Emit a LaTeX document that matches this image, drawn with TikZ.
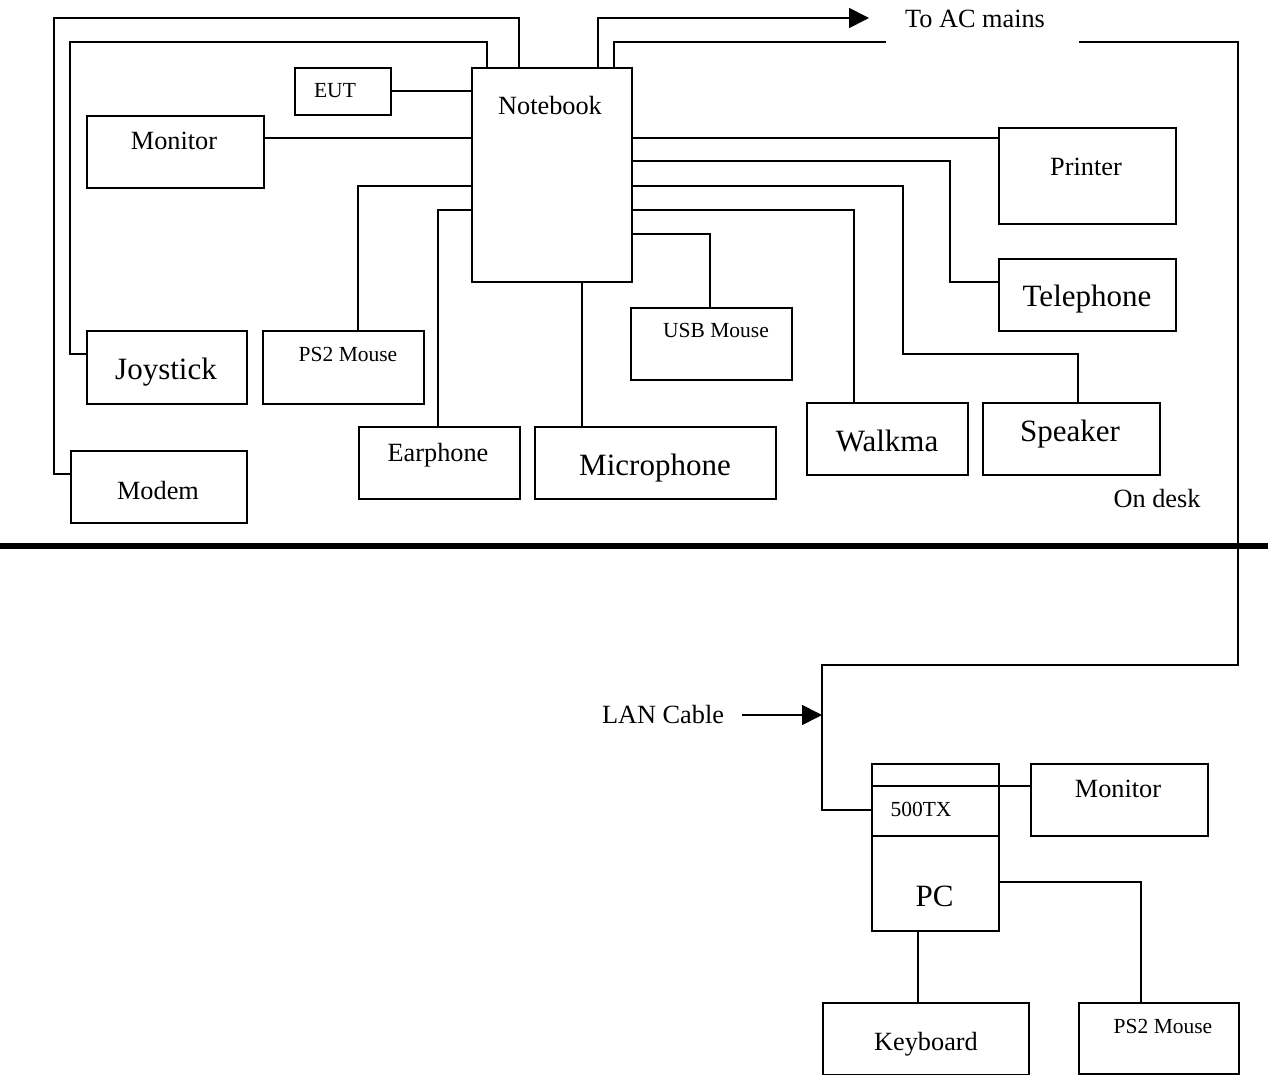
\documentclass[tikz,border=0pt]{standalone}
\usepackage{fontspec}
\setmainfont{Liberation Serif}
\usetikzlibrary{calc,arrows.meta}
\begin{document}
\begin{tikzpicture}[x=1pt,y=-1pt,
  box/.style={draw, line width=1.7pt, inner sep=0pt, anchor=north west},
  wire/.style={line width=1.7pt},
  tip/.style={line width=1.7pt, -{Triangle[length=20pt,width=20pt]}},
  tn/.style={font=\fontsize{26.3}{30}\selectfont, inner sep=0pt, anchor=base},
  tl/.style={font=\fontsize{31}{35}\selectfont, inner sep=0pt, anchor=base},
  ts/.style={font=\fontsize{21.5}{25}\selectfont, inner sep=0pt, anchor=base}]
\useasboundingbox (0,0) rectangle (1268,1075);

% ---- boxes (upper part, on desk)
\node[box, minimum width=160pt, minimum height=214pt] (nb) at (471,67) {};
\node[box, minimum width=96pt, minimum height=47pt] (eut) at (294,67) {};
\node[box, minimum width=177pt, minimum height=72pt] (mon) at (86,115) {};
\node[box, minimum width=177pt, minimum height=96pt] (prn) at (998,127) {};
\node[box, minimum width=177pt, minimum height=72pt] (tel) at (998,258) {};
\node[box, minimum width=161pt, minimum height=72pt] (usb) at (630,307) {};
\node[box, minimum width=160pt, minimum height=73pt] (joy) at (86,330) {};
\node[box, minimum width=161pt, minimum height=73pt] (ps2) at (262,330) {};
\node[box, minimum width=161pt, minimum height=72pt] (ear) at (358,426) {};
\node[box, minimum width=241pt, minimum height=72pt] (mic) at (534,426) {};
\node[box, minimum width=161pt, minimum height=72pt] (wlk) at (806,402) {};
\node[box, minimum width=177pt, minimum height=72pt] (spk) at (982,402) {};
\node[box, minimum width=176pt, minimum height=72pt] (mdm) at (70,450) {};

% ---- boxes (lower part)
\node[box, minimum width=127pt, minimum height=72pt] (tx) at (871,763) {};
\node[box, minimum width=177pt, minimum height=72pt] (mon2) at (1030,763) {};
\node[box, minimum width=127pt, minimum height=95pt] (pc) at (871,835) {};
\node[box, minimum width=206pt, minimum height=72pt] (kb) at (822,1002) {};
\node[box, minimum width=160pt, minimum height=71pt] (ps2b) at (1078,1002) {};

% ---- ports on the notebook
\coordinate (w1) at ($(nb.north west)+(0,71)$);
\coordinate (w2) at ($(nb.north west)+(0,119)$);
\coordinate (w3) at ($(nb.north west)+(0,143)$);
\coordinate (e1) at ($(nb.north east)+(0,71)$);
\coordinate (e2) at ($(nb.north east)+(0,94)$);
\coordinate (e3) at ($(nb.north east)+(0,119)$);
\coordinate (e4) at ($(nb.north east)+(0,143)$);
\coordinate (e5) at ($(nb.north east)+(0,167)$);
\coordinate (t1) at ($(nb.north west)+(16,0)$);
\coordinate (t2) at ($(nb.north west)+(48,0)$);
\coordinate (t3) at ($(nb.north west)+(127,0)$);
\coordinate (t4) at ($(nb.north west)+(143,0)$);
\coordinate (b1) at ($(nb.south west)+(111,0)$);
\coordinate (acend) at (869,18);
\coordinate (lanR) at (1238,665);
\coordinate (lanL) at (822,665);
\coordinate (lanA) at (742,715);

% ---- connectors
\draw[wire] (eut.east) -- (eut.east -| nb.west);
\draw[wire] (w1) -- (w1 -| mon.east);
\draw[wire] (w2) -| ($(ps2.north west)+(96,0)$);
\draw[wire] (w3) -| ($(ear.north west)+(80,0)$);
\draw[wire] (b1) -- (b1 |- mic.north);
\draw[wire] (e1) -- (e1 -| prn.west);
\draw[wire] (e2) -| ($(tel.north west)+(-48,24)$) -- ($(tel.north west)+(0,24)$);
\draw[wire] (e3) -| ($(spk.north west)+(-79,-48)$) -| ($(spk.north west)+(96,0)$);
\draw[wire] (e4) -| ($(wlk.north west)+(48,0)$);
\draw[wire] (e5) -| ($(usb.north west)+(80,0)$);
\draw[wire] (t2) -- ++(0,-49) -- ++(-465,0) |- ($(mdm.north west)+(0,24)$);
\draw[wire] (t1) -- ++(0,-25) -- ++(-417,0) |- ($(joy.north west)+(0,24)$);
\draw[tip] (t3) |- (acend);
\draw[wire] (t4) -- ++(0,-25) -| (lanR) -- (lanL) |- ($(tx.north west)+(0,47)$);
\draw[tip] (lanA) -- (lanA -| lanL);

\coordinate (dv) at ($(tx.north west)+(0,23)$);
\draw[wire] (dv) -- (dv -| mon2.west);
\draw[wire] ($(pc.north east)+(0,47)$) -| ($(ps2b.north west)+(63,0)$);
\coordinate (k1) at ($(pc.south west)+(47,0)$);
\draw[wire] (k1) -- (k1 |- kb.north);

% ---- desk edge
\draw[line width=5.5pt] (0,546) -- (1268,546);

% ---- gap behind the mains label
\node[fill=white, minimum width=193pt, minimum height=12pt, inner sep=0pt] (acgap) at (982.5,42) {};

% ---- texts
\node[tn] (nb-t) at (550,115) {Notebook};
\node[ts] (eut-t) at (335,97.3) {EUT};
\node[tn] (mon-t) at (174,150) {Monitor};
\node[tn] (prn-t) at (1086,176) {Printer};
\node[tl] (tel-t) at (1087,306.7) {Telephone};
\node[ts] (usb-t) at (716,337) {USB Mouse};
\node[tl] (joy-t) at (166,379) {Joystick};
\node[ts] (ps2-t) at (348,361) {PS2 Mouse};
\node[tn] (ear-t) at (438,461.7) {Earphone};
\node[tl] (mic-t) at (655,475) {Microphone};
\node[tl] (wlk-t) at (887,451.7) {Walkma};
\node[tl] (spk-t) at (1070,441.7) {Speaker};
\node[tn] (mdm-t) at (158,499) {Modem};
\node[tn] (desk-t) at (1157,507.7) {On desk};
\node[tn] (ac-t) at (975,27.3) {To AC mains};
\node[tn] (lan-t) at (663,723) {LAN Cable};
\node[ts] (tx-t) at (921,816.7) {500TX};
\node[tn] (mon2-t) at (1118,797) {Monitor};
\node[tl] (pc-t) at (934.6,906.7) {PC};
\node[tn] (kb-t) at (926,1050.7) {Keyboard};
\node[ts] (ps2b-t) at (1163,1033) {PS2 Mouse};
\end{tikzpicture}
\end{document}
